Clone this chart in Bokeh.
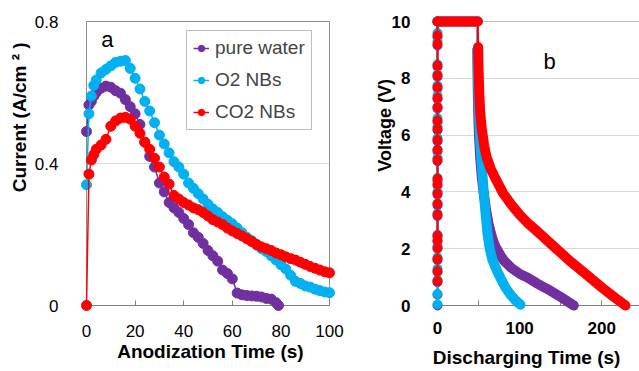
import math

from bokeh.plotting import figure
from bokeh.layouts import row
from bokeh.models import Range1d, FixedTicker, Legend, LegendItem, Span
from bokeh.core.properties import value
from bokeh.embed import file_html
from bokeh.resources import INLINE

FONT = "Liberation Sans"
PURPLE = "#7030A0"
CYAN = "#00B0F0"
RED = "#FF0000"

# ---- (a) anodization current ----
water_t = [0, 1, 2, 3, 4, 6, 8, 10, 12, 14, 16, 18, 20, 22, 24, 26, 28, 30, 32, 34,
           36, 38, 40, 42, 44, 46, 48, 50, 52, 54, 56, 58, 60, 62, 64, 66, 68, 70,
           72, 74, 76, 78, 79]
water_i = [0.49, 0.565, 0.575, 0.59, 0.60, 0.612, 0.618, 0.615, 0.605, 0.598, 0.58,
           0.56, 0.54, 0.51, 0.46, 0.42, 0.39, 0.345, 0.32, 0.29, 0.275, 0.262, 0.245,
           0.228, 0.205, 0.192, 0.175, 0.155, 0.14, 0.125, 0.10, 0.09, 0.075, 0.035,
           0.03, 0.028, 0.027, 0.026, 0.024, 0.02, 0.018, 0.008, 0.0]

o2_t = [0, 1, 2, 3, 4, 6, 8, 10, 12, 14, 16, 18, 20, 22, 24, 26, 28, 30, 32, 34, 36,
        38, 40, 42, 44, 46, 48, 50, 52, 54, 56, 58, 60, 62, 64, 66, 68, 70, 72, 74,
        76, 78, 80, 82, 84, 86, 88, 90, 92, 94, 96, 98, 100]
o2_i = [0.34, 0.54, 0.59, 0.62, 0.635, 0.655, 0.665, 0.675, 0.685, 0.688, 0.69, 0.668,
        0.64, 0.61, 0.575, 0.548, 0.515, 0.48, 0.455, 0.43, 0.405, 0.39, 0.37, 0.345,
        0.33, 0.315, 0.30, 0.285, 0.272, 0.262, 0.25, 0.24, 0.23, 0.218, 0.205, 0.192,
        0.183, 0.17, 0.16, 0.152, 0.14, 0.128, 0.115, 0.103, 0.085, 0.068, 0.062,
        0.055, 0.052, 0.046, 0.042, 0.038, 0.036]

co2_t = [0, 1, 2, 3, 4, 6, 8, 10, 12, 14, 16, 18, 20, 22, 24, 26, 28, 30, 32, 34, 36,
         38, 40, 42, 44, 46, 48, 50, 52, 54, 56, 58, 60, 62, 64, 66, 68, 70, 72, 74,
         76, 78, 80, 82, 84, 86, 88, 90, 92, 94, 96, 98, 100]
co2_i = [0.0, 0.37, 0.41, 0.425, 0.44, 0.452, 0.468, 0.505, 0.52, 0.528, 0.53, 0.525,
         0.505, 0.485, 0.46, 0.44, 0.415, 0.39, 0.362, 0.342, 0.31, 0.30, 0.29, 0.283,
         0.275, 0.27, 0.262, 0.252, 0.242, 0.235, 0.228, 0.218, 0.21, 0.203, 0.196,
         0.188, 0.18, 0.172, 0.165, 0.16, 0.155, 0.148, 0.143, 0.137, 0.132, 0.128,
         0.122, 0.116, 0.11, 0.105, 0.10, 0.095, 0.092]

# ---- (b) charge / discharge voltage ----
hold_t = [0, 49]
hold_v = [10, 10]

water_charge_v = [0.0, 0.38, 0.82, 1.18, 1.6, 2.0, 2.25, 2.42, 3.15, 3.52, 3.9, 4.22,
                  4.4, 5.08, 5.42, 5.78, 6.17, 6.46, 6.93, 7.27, 7.64, 8.05, 8.4, 9.15,
                  9.45, 10.0]
water_dis_t = [48.5, 49, 49.5, 50.5, 52, 54, 56.5, 59, 62, 65, 68, 71, 77, 81, 90, 101,
               110, 121, 130, 137, 149, 158, 166]
water_dis_v = [9.0, 7.6, 6.9, 6.0, 5.2, 4.5, 3.9, 3.4, 2.9, 2.55, 2.25, 2.05, 1.75,
               1.58, 1.32, 1.1, 0.98, 0.78, 0.64, 0.53, 0.32, 0.15, 0.0]

o2_charge_v = [0.04, 0.41, 0.9, 1.3, 1.7, 2.1, 2.5, 3.25, 3.6, 4.0, 4.5, 5.2, 5.5,
               5.9, 6.3, 6.6, 7.0, 7.4, 7.75, 8.15, 8.5, 9.3, 9.6, 10.0]
o2_dis_t = [48.5, 49, 50, 52, 54, 56, 58, 61, 64, 67, 72, 77, 83, 89, 95, 101]
o2_dis_v = [9.0, 8.5, 7.2, 5.8, 4.9, 4.1, 3.4, 2.5, 1.95, 1.6, 1.25, 0.95, 0.62, 0.38,
            0.18, 0.03]

co2_charge_v = [0.86, 1.21, 1.64, 2.03, 2.29, 2.46, 3.20, 3.58, 3.95, 4.28, 4.46, 5.13,
                5.48, 5.83, 6.22, 6.51, 6.98, 7.31, 7.69, 8.10, 8.45, 9.21, 9.51, 10.0]
co2_dis_t = [49.5, 50, 51, 52, 54, 57, 60, 65, 70, 80, 90, 100, 110, 120, 140, 160,
             180, 200, 215, 229]
co2_dis_v = [9.1, 8.3, 7.4, 6.8, 6.2, 5.6, 5.2, 4.8, 4.5, 3.95, 3.55, 3.2, 2.9, 2.65,
             2.12, 1.6, 1.12, 0.64, 0.3, 0.0]


def style_axes(p, bold_ticks, tick_px):
    for ax in (p.xaxis, p.yaxis):
        ax.major_label_text_font = FONT
        ax.major_label_text_font_size = tick_px
        ax.major_label_text_font_style = "bold" if bold_ticks else "normal"
        ax.major_label_text_color = "black"
        ax.minor_tick_line_color = None
    p.yaxis.axis_line_color = None
    p.yaxis.major_tick_line_color = None
    p.xaxis.axis_line_color = "#808080"
    p.xaxis.major_tick_line_color = "#808080"
    p.xaxis.major_tick_in = 5
    p.xaxis.major_tick_out = 0
    p.xgrid.grid_line_color = None
    p.ygrid.grid_line_color = "#d9d9d9"


def add_text(p, x, y, text, size, bold=True, vertical=False):
    # text drawn at overlay level so it may sit outside the plot frame
    p.text(x=[x], y=[y], text=[text], text_font=value(FONT), text_font_size=size,
           text_font_style="bold" if bold else "normal", text_color="black",
           text_align="center", text_baseline="middle",
           angle=math.pi / 2 if vertical else 0, level="overlay")


# ---------------- panel (a) ----------------
pa = figure(width=345, height=371, x_range=Range1d(0, 100), y_range=Range1d(0, 0.8),
            output_backend="svg", toolbar_location=None,
            min_border_left=86, min_border_right=16, min_border_top=17,
            min_border_bottom=63)
pa.outline_line_color = "#8c8c8c"
style_axes(pa, False, "17px")
pa.xaxis.ticker = FixedTicker(ticks=[0, 20, 40, 60, 80, 100])
pa.yaxis.ticker = FixedTicker(ticks=[0, 0.4, 0.8])
pa.yaxis.major_label_overrides = {0: "0", 0.4: "0.4", 0.8: "0.8"}
pa.xaxis.major_label_standoff = 19
pa.yaxis.major_label_standoff = 22

add_text(pa, 51, -0.129, "Anodization Time (s)", "19px")
add_text(pa, -27.4, 0.53, "Current (A/cm ² )", "19px", vertical=True)

items = []
for name, t, i, c in (("pure water", water_t, water_i, PURPLE),
                      ("O2 NBs", o2_t, o2_i, CYAN),
                      ("CO2 NBs", co2_t, co2_i, RED)):
    ln = pa.line(t, i, line_color=c, line_width=1.5, level="overlay")
    sc = pa.scatter(t, i, size=10, fill_color=c, line_color=c, level="overlay")
    items.append(LegendItem(label=name, renderers=[ln, sc]))

legend = Legend(items=items, location=(100, 175))
legend.label_text_font = FONT
legend.label_text_font_size = "19px"
legend.label_height = 22
legend.glyph_width = 16
legend.glyph_height = 22
legend.label_standoff = 6
legend.spacing = 10
legend.padding = 6
legend.margin = 0
legend.border_line_color = "#808080"
legend.background_fill_alpha = 1
pa.add_layout(legend)

add_text(pa, 8.6, 0.75, "a", "22px", bold=False)

# ---------------- panel (b) ----------------
pb = figure(width=294, height=371, x_range=Range1d(0, 246), y_range=Range1d(0, 10),
            output_backend="svg", toolbar_location=None,
            min_border_left=92, min_border_right=0, min_border_top=21,
            min_border_bottom=66)
pb.outline_line_color = None
style_axes(pb, True, "17px")
pb.xaxis.ticker = FixedTicker(ticks=[0, 50, 100, 150, 200])
pb.xaxis.major_label_overrides = {50: "", 150: ""}
pb.yaxis.ticker = FixedTicker(ticks=[0, 2, 4, 6, 8, 10])
pb.ygrid.ticker = FixedTicker(ticks=[2, 4, 6, 8])
pb.xaxis.major_label_standoff = 16
pb.yaxis.major_label_standoff = 21
pb.add_layout(Span(location=10, dimension="width", line_color="#808080", line_width=1))

add_text(pb, 108.5, -1.83, "Discharging Time (s)", "19px")
add_text(pb, -63.4, 6.34, "Voltage (V)", "18px", vertical=True)

for cv, dt, dv, c in ((water_charge_v, water_dis_t, water_dis_v, PURPLE),
                      (o2_charge_v, o2_dis_t, o2_dis_v, CYAN),
                      (co2_charge_v, co2_dis_t, co2_dis_v, RED)):
    ct = [0.0 for _ in cv]
    pb.line(ct + hold_t + dt, cv + hold_v + dv, line_color=c, line_width=2,
            level="overlay")
    pb.scatter(ct, cv, size=9, fill_color=c, line_color=c, level="overlay")
    pb.line(hold_t, hold_v, line_color=c, line_width=10, line_cap="round",
            level="overlay")
    pb.line(dt, dv, line_color=c, line_width=10, line_cap="round", line_join="round",
            level="overlay")

add_text(pb, 136.6, 8.6, "b", "22px", bold=False)

layout = row(pa, pb, spacing=0)
open("out.html", "w").write(file_html(layout, INLINE))
